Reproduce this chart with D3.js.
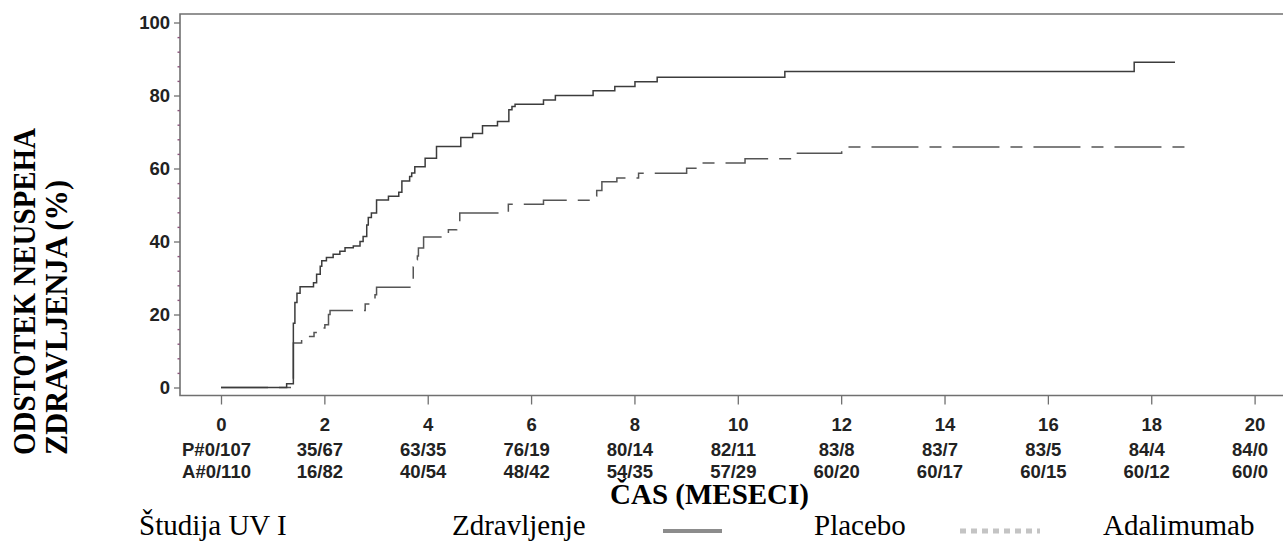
<!DOCTYPE html>
<html>
<head>
<meta charset="utf-8">
<script src="https://cdn.jsdelivr.net/npm/d3@7"></script>
<style>
    body { margin: 0; background: white; }
    .tick text { font-family: "Liberation Sans", Arial, sans-serif; font-weight: bold; font-size: 18.5px; fill: #222; }
    .risk { font-family: "Liberation Sans", Arial, sans-serif; font-weight: bold; font-size: 18.5px; fill: #222; }
    .serif { font-family: "Liberation Serif", "Times New Roman", serif; fill: #000; }
</style>
</head>
<body>
<div id="chart"></div>
<script>
// kaplan-meier style cumulative failure
const placeboTime = [0, 1.27, 1.40, 1.43, 1.47, 1.53, 1.79, 1.85, 1.92, 1.95, 2.04, 2.17, 2.30, 2.40, 2.56, 2.69, 2.75, 2.82, 2.85, 2.91, 3.01, 3.24, 3.44, 3.50, 3.65, 3.69, 3.75, 3.95, 4.17, 4.64, 4.87, 5.06, 5.35, 5.57, 5.63, 5.69, 6.24, 6.47, 7.20, 7.62, 8.01, 8.44, 10.91, 17.67, 18.46];
const placeboPct  = [0, 1.0, 17.6, 23.3, 25.8, 27.6, 28.7, 31.0, 33.2, 34.7, 35.6, 36.5, 37.3, 38.3, 38.8, 40.0, 41.4, 44.5, 46.6, 47.8, 51.4, 52.4, 53.5, 56.6, 57.8, 58.8, 60.5, 62.8, 66.0, 68.5, 69.6, 71.7, 72.9, 76.1, 77.0, 77.6, 78.8, 80.0, 81.3, 82.5, 83.8, 85.0, 86.6, 89.1, 89.1];

const adaTime = [0, 1.40, 1.56, 1.80, 1.92, 2.01, 2.08, 2.11, 2.79, 2.88, 2.98, 3.01, 3.72, 3.75, 3.80, 3.82, 3.92, 4.40, 4.56, 4.62, 5.56, 6.24, 7.17, 7.27, 7.37, 7.66, 8.08, 9.01, 9.24, 10.14, 11.11, 12.01, 18.69];
const adaPct  = [0, 12.2, 14.0, 15.1, 16.3, 17.2, 20.0, 21.1, 22.9, 23.8, 25.4, 27.5, 33.0, 35.0, 36.0, 38.2, 41.2, 43.2, 45.5, 47.8, 50.2, 51.3, 52.5, 54.0, 56.4, 57.4, 58.7, 60.1, 61.5, 62.7, 64.2, 65.9, 65.9];

const xTicks = [0, 2, 4, 6, 8, 10, 12, 14, 16, 18, 20];
const yTicks = [0, 20, 40, 60, 80, 100];
const yMinor = [4, 8, 12, 16, 24, 28, 32, 36, 44, 48, 52, 56, 64, 68, 72, 76, 84, 88, 92, 96];

const placeboAtRisk = ["P#0/107", "35/67", "63/35", "76/19", "80/14", "82/11", "83/8", "83/7", "83/5", "84/4", "84/0"];
const adaAtRisk     = ["A#0/110", "16/82", "40/54", "48/42", "54/35", "57/29", "60/20", "60/17", "60/15", "60/12", "60/0"];

const yTitle = ["ODSTOTEK NEUSPEHA", "ZDRAVLJENJA (%)"];
const xTitle = "ČAS (MESECI)";
const legendLabels = ["Študija UV I", "Zdravljenje", "Placebo", "Adalimumab"];

let width = 1283, height = 542;
let frame = {left: 180, top: 14, bottom: 395.5, right: 1283};

let x = d3.scaleLinear().domain([0, 20]).range([221, 1254.6]);
let y = d3.scaleLinear().domain([0, 100]).range([387.5, 22.5]);

let svg = d3.select("#chart").append("svg")
    .attr("width", width)
    .attr("height", height)
    .style("background", "white");

// plot frame (left, top, bottom; no right side)
let axisColor = "#707070";
svg.append("path")
    .attr("d", "M" + frame.right + "," + frame.top + "H" + frame.left + "V" + frame.bottom + "H" + frame.right)
    .attr("fill", "none")
    .attr("stroke", axisColor)
    .attr("stroke-width", 1.6);

// y axis, minor ticks first
let yMinorAxis = svg.append("g")
    .attr("transform", "translate(" + frame.left + ",0)")
    .call(d3.axisLeft(y).tickValues(yMinor).tickSize(2.5).tickFormat(""));
yMinorAxis.select(".domain").remove();
yMinorAxis.selectAll("line").attr("stroke", "#8a5a7c").attr("stroke-width", 1.4);

let yAxis = svg.append("g")
    .attr("transform", "translate(" + frame.left + ",0)")
    .call(d3.axisLeft(y).tickValues(yTicks).tickSize(6).tickPadding(4));
yAxis.select(".domain").remove();
yAxis.selectAll("line").attr("stroke", axisColor).attr("stroke-width", 1.3);

// x axis
let xAxis = svg.append("g")
    .attr("transform", "translate(0," + frame.bottom + ")")
    .call(d3.axisBottom(x).tickValues(xTicks).tickSize(9).tickPadding(13));
xAxis.select(".domain").remove();
xAxis.selectAll("line").attr("stroke", axisColor).attr("stroke-width", 1.3);

// curves
let line = d3.line()
    .x(function (d) {return x(d[0]);})
    .y(function (d) {return y(d[1]);})
    .curve(d3.curveStepAfter);

let placebo = placeboTime.map(function (t, i) {return [t, placeboPct[i]];});
let ada = adaTime.map(function (t, i) {return [t, adaPct[i]];});

svg.append("path")
    .datum(ada)
    .attr("d", line)
    .attr("fill", "none")
    .attr("stroke", "#555")
    .attr("stroke-width", 1.5)
    .attr("stroke-dasharray", "47,11,12,11");

svg.append("path")
    .datum(placebo)
    .attr("d", line)
    .attr("fill", "none")
    .attr("stroke", "#3c3c3c")
    .attr("stroke-width", 1.5);

// numbers at risk
svg.append("g").selectAll("text")
    .data(placeboAtRisk)
    .join("text")
    .attr("class", "risk")
    .attr("x", function (d, i) {return x(xTicks[i]) - 4.5;})
    .attr("y", 455.5)
    .attr("text-anchor", "middle")
    .text(function (d) {return d;});

svg.append("g").selectAll("text")
    .data(adaAtRisk)
    .join("text")
    .attr("class", "risk")
    .attr("x", function (d, i) {return x(xTicks[i]) - 4.5;})
    .attr("y", 478)
    .attr("text-anchor", "middle")
    .text(function (d) {return d;});

// axis titles
svg.append("text")
    .attr("class", "serif")
    .attr("x", 709.5)
    .attr("y", 503.5)
    .attr("text-anchor", "middle")
    .style("font-weight", "bold")
    .style("font-size", "29px")
    .text(xTitle);

let titleLen = [327, 275];
svg.append("g").selectAll("text")
    .data(yTitle)
    .join("text")
    .attr("class", "serif")
    .attr("transform", function (d, i) {return "translate(" + (35 + i * 32) + ",455) rotate(-90)";})
    .attr("textLength", function (d, i) {return titleLen[i];})
    .attr("lengthAdjust", "spacingAndGlyphs")
    .style("font-weight", "bold")
    .style("font-size", "31px")
    .text(function (d) {return d;});

// legend row
let legendX = [139, 452, 814, 1103];
svg.append("g").selectAll("text")
    .data(legendLabels)
    .join("text")
    .attr("class", "serif")
    .attr("x", function (d, i) {return legendX[i];})
    .attr("y", 535)
    .style("font-size", "29px")
    .text(function (d) {return d;});

// legend samples
svg.append("line")
    .attr("x1", 663).attr("x2", 722)
    .attr("y1", 531).attr("y2", 531)
    .attr("stroke", "#8c8c8c")
    .attr("stroke-width", 4);
svg.append("line")
    .attr("x1", 960).attr("x2", 1040)
    .attr("y1", 531).attr("y2", 531)
    .attr("stroke", "#c4c4c4")
    .attr("stroke-width", 5)
    .attr("stroke-dasharray", "6,5");
</script>
</body>
</html>
